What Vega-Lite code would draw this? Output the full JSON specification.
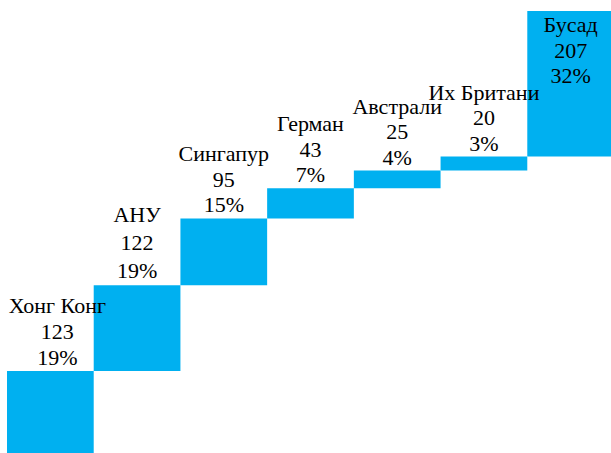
{
  "$schema": "https://vega.github.io/schema/vega-lite/v6.json",
  "autosize": "none",
  "width": 604,
  "height": 442,
  "padding": {"left": 7, "top": 11, "right": 0, "bottom": 0},
  "background": "white",
  "config": {"view": {"stroke": null}, "text": {"font": "'Times New Roman', 'Liberation Serif', serif", "fontSize": 22, "color": "black", "align": "center", "baseline": "alphabetic"}},
  "data": {
    "values": [
      {"order": 1, "name": "Хонг Конг", "value": 123, "pct": 19},
      {"order": 2, "name": "АНУ", "value": 122, "pct": 19},
      {"order": 3, "name": "Сингапур", "value": 95, "pct": 15},
      {"order": 4, "name": "Герман", "value": 43, "pct": 7},
      {"order": 5, "name": "Австрали", "value": 25, "pct": 4},
      {"order": 6, "name": "Их Британи", "value": 20, "pct": 3},
      {"order": 7, "name": "Бусад", "value": 207, "pct": 32}
    ]
  },
  "transform": [
    {"window": [{"op": "sum", "field": "value", "as": "end"}], "sort": [{"field": "order"}], "frame": [null, 0]},
    {"calculate": "datum.end - datum.value", "as": "start"},
    {"calculate": "[datum.name, '' + datum.value, datum.pct + '%']", "as": "label"}
  ],
  "encoding": {
    "x": {
      "field": "name",
      "type": "nominal",
      "sort": {"field": "order"},
      "scale": {"paddingInner": 0, "paddingOuter": 0, "range": [0, 607]},
      "axis": null
    }
  },
  "layer": [
    {
      "mark": {"type": "bar", "color": "#00B0F0", "clip": true},
      "encoding": {
        "y": {"field": "start", "type": "quantitative", "scale": {"domain": [6.4, 635], "zero": false, "nice": false}, "axis": null},
        "y2": {"field": "end"}
      }
    },
    {
      "transform": [{"filter": "datum.name !== 'Бусад' && datum.name !== 'Хонг Конг' && datum.name !== 'АНУ'"}],
      "mark": {"type": "text", "lineHeight": 25.5, "dy": -57},
      "encoding": {
        "y": {"field": "end", "type": "quantitative"},
        "text": {"field": "label"}
      }
    },
    {
      "transform": [{"filter": "datum.name === 'Хонг Конг'"}],
      "mark": {"type": "text", "lineHeight": 26, "dy": -58, "dx": 7},
      "encoding": {
        "y": {"field": "end", "type": "quantitative"},
        "text": {"field": "label"}
      }
    },
    {
      "transform": [{"filter": "datum.name === 'АНУ'"}],
      "mark": {"type": "text", "lineHeight": 27.7, "dy": -63},
      "encoding": {
        "y": {"field": "end", "type": "quantitative"},
        "text": {"field": "label"}
      }
    },
    {
      "transform": [{"filter": "datum.name === 'Бусад'"}],
      "mark": {"type": "text", "lineHeight": 25.5, "dy": 21},
      "encoding": {
        "y": {"field": "end", "type": "quantitative"},
        "text": {"field": "label"}
      }
    }
  ]
}
